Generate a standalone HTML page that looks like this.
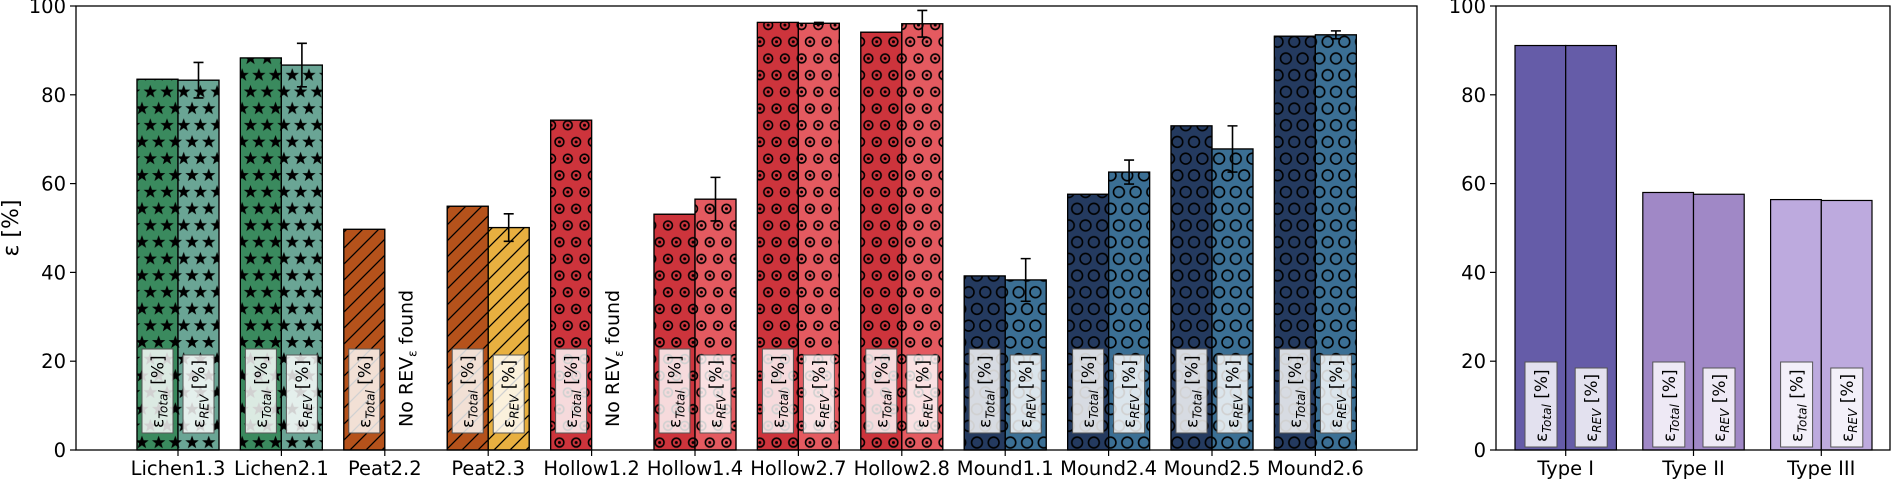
<!DOCTYPE html>
<html><head><meta charset="utf-8"><style>
html,body{margin:0;padding:0;background:#fff;}
svg{display:block;font-family:"DejaVu Sans","Liberation Sans",sans-serif;}
</style></head><body>
<svg id="chart" width="1892" height="479" viewBox="0 0 1892 479" xmlns="http://www.w3.org/2000/svg">
<defs>
<g id="star"><polygon points="0,-7 1.7,-2.3 6.7,-2.2 2.8,0.9 4.2,5.7 0,2.8 -4.2,5.7 -2.8,0.9 -6.7,-2.2 -1.7,-2.3" fill="#000"/></g>
<pattern id="pStar" patternUnits="userSpaceOnUse" width="16.7" height="33.4">
<use href="#star" x="8.35" y="8.35"/><use href="#star" x="0" y="25.05"/><use href="#star" x="16.7" y="25.05"/>
</pattern>
<pattern id="pHatch" patternUnits="userSpaceOnUse" width="16" height="16">
<path d="M-4,20 L20,-4 M-4,4 L4,-4 M12,20 L20,12" stroke="#000" stroke-width="1.3"/>
</pattern>
<pattern id="pTarget" patternUnits="userSpaceOnUse" width="16.7" height="33.4">
<g fill="none" stroke="#000" stroke-width="1.6"><circle cx="8.35" cy="8.35" r="4.4"/><circle cx="0" cy="25.05" r="4.4"/><circle cx="16.7" cy="25.05" r="4.4"/></g>
<circle cx="8.35" cy="8.35" r="1.5"/><circle cx="0" cy="25.05" r="1.5"/><circle cx="16.7" cy="25.05" r="1.5"/>
</pattern>
<pattern id="pCirc" patternUnits="userSpaceOnUse" width="16.7" height="33.4">
<g fill="none" stroke="#000" stroke-width="1.6"><circle cx="8.35" cy="8.35" r="5.4"/><circle cx="0" cy="25.05" r="5.4"/><circle cx="16.7" cy="25.05" r="5.4"/></g>
</pattern>
</defs>
<g id="plot"></g>
</svg>
<script>
const categories=["Lichen1.3","Lichen2.1","Peat2.2","Peat2.3","Hollow1.2","Hollow1.4","Hollow2.7","Hollow2.8","Mound1.1","Mound2.4","Mound2.5","Mound2.6"];
const totalVals=[83.5,88.3,49.7,54.9,74.3,53.1,96.3,94.1,39.2,57.6,73.0,93.2];
const revVals=[83.3,86.7,null,50.1,null,56.5,96.1,96.0,38.3,62.6,67.8,93.5];
const revErr=[4.0,4.9,0,3.1,0,4.9,0.2,3.0,4.8,2.7,5.2,0.9];
const typeCats=["Type I","Type II","Type III"];
const typeTotal=[91.1,58.0,56.4];
const typeRev=[91.1,57.6,56.2];
const yTicks=[0,20,40,60,80,100];

const NS="http://www.w3.org/2000/svg";
const g=document.getElementById('plot');
function el(t,a,p){const e=document.createElementNS(NS,t);for(const k in a)e.setAttribute(k,a[k]);(p||g).appendChild(e);return e;}
const Y0=450,Y1=6;
function y(v){return Y0-(v/100)*(Y0-Y1);}
function xL(i){return 178+i*103.4;}
function xR(i){return 1565.7+i*127.8;}
const colsT=["#3a8a5e","#3a8a5e","#b5521b","#b5521b","#cd343c","#cd343c","#cd343c","#cd343c","#243a5f","#243a5f","#243a5f","#243a5f"];
const colsR=["#6aa595","#6aa595","#e8b040","#e8b040","#e45a60","#e45a60","#e45a60","#e45a60","#3b6f94","#3b6f94","#3b6f94","#3b6f94"];
const pats=["pStar","pStar","pHatch","pHatch","pTarget","pTarget","pTarget","pTarget","pCirc","pCirc","pCirc","pCirc"];
const typeCols=["#655ca8","#a088c6","#bdaade"];

function label(cx,top,bot,w,kind){
  const r=el('rect',{x:cx-w/2,y:top,width:w,height:bot-top,fill:'rgba(255,255,255,0.82)',stroke:'#555','stroke-width':1});
  
  
  const t=el('text',{transform:`translate(${cx+6},${bot-5}) rotate(-90)`,'font-size':17,fill:'#000'});
  
  
  t.innerHTML='ε<tspan font-size="12" font-style="italic" baseline-shift="-4">'+(kind==='T'?'Total':'REV')+'</tspan> [%]';
}
function bar(x,w,v,fill,pat,name){
  const b=el('rect',{x:x,y:y(v),width:w,height:Y0-y(v),fill:fill,stroke:'#000','stroke-width':1.2});
  
  
  if(pat){const p=el('rect',{x:x,y:y(v),width:w,height:Y0-y(v),fill:'url(#'+pat+')',stroke:'#000','stroke-width':1.2});
    
    }
}
function axes(x0,x1,name){
  const f=el('rect',{x:x0,y:Y1,width:x1-x0,height:Y0-Y1,fill:'none',stroke:'#000','stroke-width':1.3});
  
  
  yTicks.forEach(v=>{
    el('line',{x1:x0-6,x2:x0,y1:y(v),y2:y(v),stroke:'#000','stroke-width':1.2});
    const t=el('text',{x:x0-10,y:y(v)+7,'text-anchor':'end','font-size':19.5});
    
    
    t.textContent=v;
  });
}
const W=41;
categories.forEach((c,i)=>{
  const cx=xL(i);
  bar(cx-W,W,totalVals[i],colsT[i],pats[i],'bar-total-'+c);
  if(revVals[i]!==null){
    bar(cx,W,revVals[i],colsR[i],pats[i],'bar-rev-'+c);
    if(revErr[i]>0){
      const ex=cx+W/2,a=y(revVals[i]+revErr[i]),b=y(revVals[i]-revErr[i]);
      const e=el('path',{d:`M${ex},${a}V${b}M${ex-5},${a}H${ex+5}M${ex-5},${b}H${ex+5}`,stroke:'#000','stroke-width':1.6,fill:'none'});
      
      
    }
    label(cx+W/2,355,433,31,'R');
  } else {
    const t=el('text',{transform:`translate(${cx+W/2+7},${427}) rotate(-90)`,'font-size':19});
    
    
    t.innerHTML='No REV<tspan font-size="12" baseline-shift="-4">ε</tspan> found';
  }
  label(cx-W/2,349,433,31,'T');
});
axes(76,1417,'left-axes');
categories.forEach((c,i)=>{
  el('line',{x1:xL(i),x2:xL(i),y1:Y0,y2:Y0+6,stroke:'#000','stroke-width':1.2});
  const t=el('text',{x:xL(i),y:475,'text-anchor':'middle','font-size':19.5});
  
  
  t.textContent=c;
});
const yl=el('text',{transform:'translate(18,228) rotate(-90)','text-anchor':'middle','font-size':22});


yl.textContent='ε [%]';

const W2=50.7;
typeCats.forEach((c,i)=>{
  const cx=xR(i);
  bar(cx-W2,W2,typeTotal[i],typeCols[i],null,'bar-total-'+c);
  bar(cx,W2,typeRev[i],typeCols[i],null,'bar-rev-'+c);
  label(cx-W2+26,362,447,32,'T');
  label(cx+25.5,368,447,32,'R');
});
axes(1496,1890,'right-axes');
typeCats.forEach((c,i)=>{
  el('line',{x1:xR(i),x2:xR(i),y1:Y0,y2:Y0+6,stroke:'#000','stroke-width':1.2});
  const t=el('text',{x:xR(i),y:475,'text-anchor':'middle','font-size':19.5});
  
  
  t.textContent=c;
});
</script>
</body></html>
